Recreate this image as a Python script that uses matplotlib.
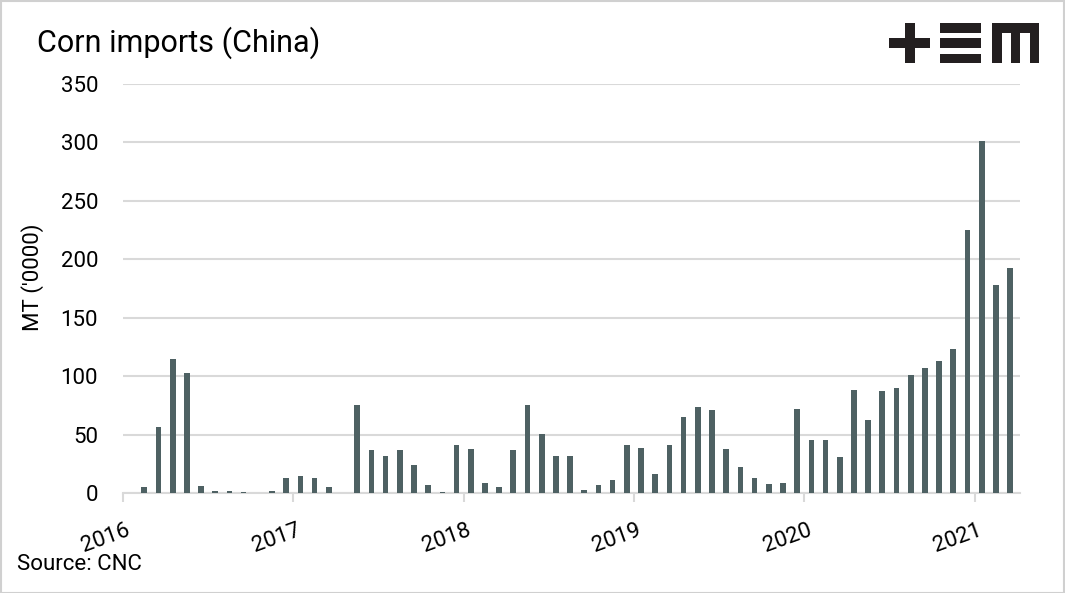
"""Corn imports (China), monthly, Jan 2016 - Mar 2021."""
import numpy as np
import matplotlib
matplotlib.use("Agg")
import matplotlib.pyplot as plt
import matplotlib.patches as mpatches
from matplotlib.transforms import ScaledTranslation

# ── Data (MT '0000, one value per month starting Jan 2016) ─────────────────
imports = [
    0, 5.4, 56.8, 115, 103, 6.3, 2, 2, 1, 0, 2, 13,            # 2016
    14.8, 13, 5.4, 0, 75.6, 37, 32, 37, 24.3, 7.1, 1.1, 41.4,   # 2017
    38, 8.9, 5.4, 37.1, 75.6, 50.8, 32, 32, 2.9, 7.1, 11.4, 41.4,  # 2018
    38.8, 16.6, 41.4, 65.4, 73.9, 71.4, 38, 22.6, 13.1, 8, 8.9, 72.2,  # 2019
    45.7, 45.7, 31.1, 88.5, 62.8, 87.6, 90.2, 101.3, 107.3, 113.3, 122.8, 224.7,  # 2020
    300.9, 177.6, 192.1,                                        # 2021
]
year_labels = ["2016", "2017", "2018", "2019", "2020", "2021"]
y_ticks = [0, 50, 100, 150, 200, 250, 300, 350]

# ── Style ──────────────────────────────────────────────────────────────────
BAR = "#4e6163"
GRID = "#d9d9d9"
FS = 16
plt.rcParams["font.family"] = ["Roboto", "DejaVu Sans"]

W, H = 1065, 593
fig = plt.figure(figsize=(W / 100, H / 100), dpi=100)
ax = fig.add_axes([123 / W, 1 - 493 / H, (1020 - 123) / W, (493 - 83.7) / H])

x = np.arange(len(imports))
ax.bar(x, imports, width=0.4, color=BAR, zorder=3)

ax.set_xlim(-0.5, 62.7)
ax.set_ylim(0, 350)
ax.set_yticks(y_ticks)
ax.set_yticklabels([str(v) for v in y_ticks], fontsize=FS)
ax.yaxis.grid(True, color=GRID, linewidth=1.5, zorder=0)
ax.tick_params(axis="y", length=0, pad=18)

ax.set_xticks([-0.5 + 12 * i for i in range(len(year_labels))])
ax.set_xticklabels(year_labels, fontsize=FS)
ax.tick_params(axis="x", direction="out", length=6.5, width=1.5,
               color=GRID, pad=12.5)
for lab in ax.get_xticklabels():
    lab.set_rotation(20)
    lab.set_ha("right")
    lab.set_va("top")
    lab.set_rotation_mode("anchor")
    lab.set_transform(lab.get_transform()
                      + ScaledTranslation(3 / 100, 0, fig.dpi_scale_trans))

for side in ["top", "right", "left"]:
    ax.spines[side].set_visible(False)
ax.spines["bottom"].set_color(GRID)
ax.spines["bottom"].set_linewidth(1.5)

fig.text(33 / W, 1 - 277 / H, "MT ('0000)", fontsize=FS, rotation=90,
         ha="center", va="center")
fig.text(37 / W, 1 - 43 / H, "Corn imports (China)", fontsize=22,
         ha="left", va="center")
fig.text(17 / W, 1 - 564 / H, "Source: CNC", fontsize=FS,
         ha="left", va="center")

# ── Logo (+EM) drawn from blocks, pixel coords (x0, y0, x1, y1) ────────────
logo_blocks = [
    (889, 38.3, 930, 48.3), (905, 23.3, 915, 63.3),            # +
    (940, 23.3, 980.7, 32.7), (940, 38.3, 980.7, 48.3),
    (940, 54, 980.7, 63.3),                                    # three bars
    (991.7, 23.3, 1039.3, 32.7), (991.7, 23.3, 1001.7, 63.3),
    (1011, 23.3, 1020, 63.3), (1030, 23.3, 1039.3, 63.3),      # m
]
for x0, y0, x1, y1 in logo_blocks:
    fig.patches.append(mpatches.Rectangle(
        (x0 / W, 1 - y1 / H), (x1 - x0) / W, (y1 - y0) / H,
        transform=fig.transFigure, color="#231f20", lw=0))

# thin grey frame around the picture
fig.patches.append(mpatches.Rectangle(
    (0.5 / W, 0.5 / H), 1 - 1.5 / W, 1 - 1.5 / H, transform=fig.transFigure,
    fill=False, edgecolor="#d0d0d0", lw=1.5))

fig.savefig("out.png", dpi=100)
